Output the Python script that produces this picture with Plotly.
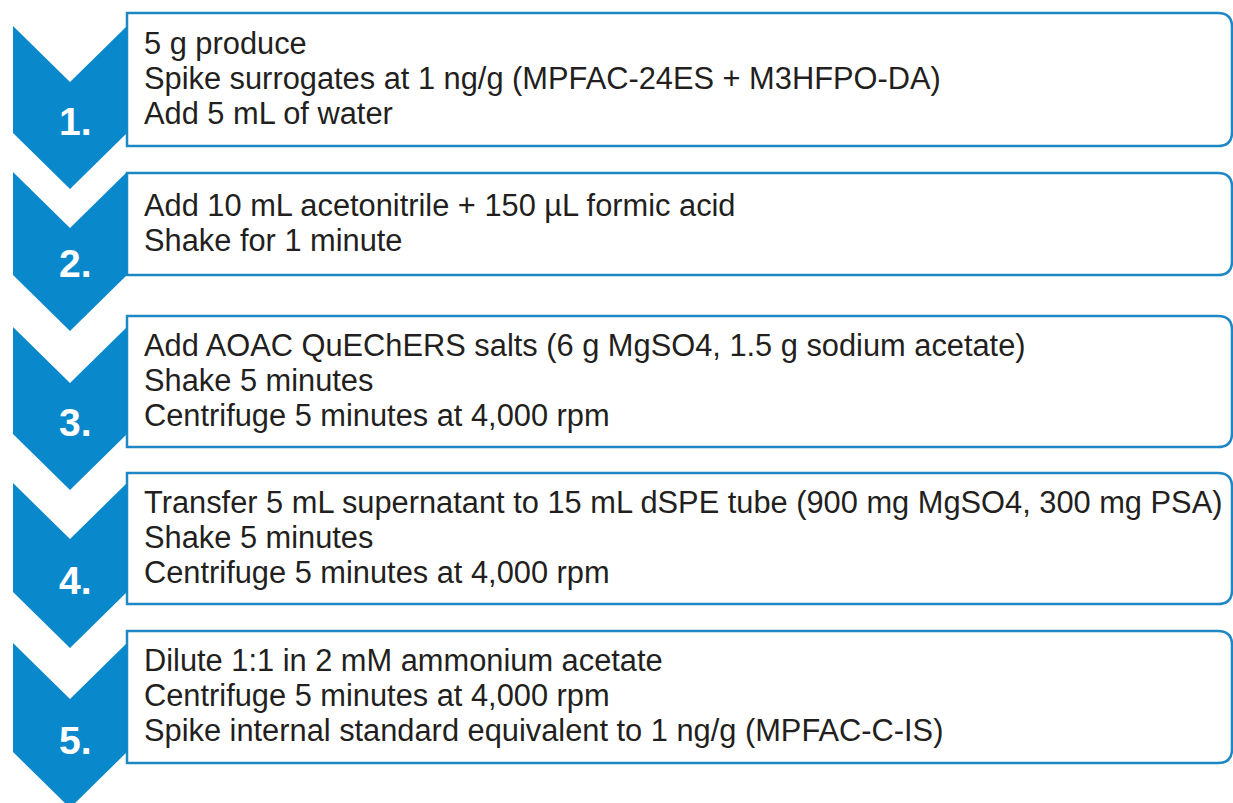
import plotly.graph_objects as go

# ---- content ----
step_labels = ["1.", "2.", "3.", "4.", "5."]
step_lines = [
    ["5 g produce",
     "Spike surrogates at 1 ng/g (MPFAC-24ES + M3HFPO-DA)",
     "Add 5 mL of water"],
    ["Add 10 mL acetonitrile + 150 µL formic acid",
     "Shake for 1 minute"],
    ["Add AOAC QuEChERS salts (6 g MgSO4, 1.5 g sodium acetate)",
     "Shake 5 minutes",
     "Centrifuge 5 minutes at 4,000 rpm"],
    ["Transfer 5 mL supernatant to 15 mL dSPE tube (900 mg MgSO4, 300 mg PSA)",
     "Shake 5 minutes",
     "Centrifuge 5 minutes at 4,000 rpm"],
    ["Dilute 1:1 in 2 mM ammonium acetate",
     "Centrifuge 5 minutes at 4,000 rpm",
     "Spike internal standard equivalent to 1 ng/g (MPFAC-C-IS)"],
]

# ---- layout geometry (pixel space) ----
W, H = 1233, 803
box_top = [13, 173, 316, 473, 631]
box_bot = [146, 275, 447, 604, 763]
chev_top = [26, 172, 327, 483, 643]
chev_bot = [133, 275, 434, 592, 752]
CX0, CX1, DEPTH = 13, 127, 56
BX0, BX1, RAD = 127, 1232, 14
LINE_GAP = 35
TEXT_X = 141.5

FILL = "#0a88cc"
BORDER = "#1f88c4"
TEXT = "#231f20"
FONT = "Liberation Sans, Arial, sans-serif"

fig = go.Figure()
shapes = []
annotations = []

for i, lines in enumerate(step_lines):
    t, b = box_top[i], box_bot[i]
    box_path = (f"M {BX0},{t} L {BX1-RAD},{t} Q {BX1},{t} {BX1},{t+RAD} "
                f"L {BX1},{b-RAD} Q {BX1},{b} {BX1-RAD},{b} L {BX0},{b} Z")
    shapes.append(dict(type="path", path=box_path, xref="x", yref="y",
                       fillcolor="white", line=dict(color=BORDER, width=2.5),
                       layer="below"))
    ct, cb = chev_top[i], chev_bot[i]
    cm = (CX0 + CX1) / 2
    chev = (f"M {CX0},{ct} L {cm},{ct+DEPTH} L {CX1},{ct} L {CX1},{cb} "
            f"L {cm},{cb+DEPTH} L {CX0},{cb} Z")
    shapes.append(dict(type="path", path=chev, xref="x", yref="y",
                       fillcolor=FILL, line=dict(width=0), layer="above"))
    n = len(lines)
    mid = (t + b) / 2 - 1.5
    for k, line in enumerate(lines):
        annotations.append(dict(x=TEXT_X, y=mid + (k - (n - 1) / 2) * LINE_GAP,
                                xref="x", yref="y",
                                xanchor="left", yanchor="middle", align="left",
                                text=line, showarrow=False,
                                font=dict(family=FONT, size=30.8, color=TEXT)))
    annotations.append(dict(x=75, y=cb - 12, xref="x", yref="y",
                            xanchor="center", yanchor="middle",
                            text=f"<b>{step_labels[i]}</b>", showarrow=False,
                            font=dict(family=FONT, size=39, color="white")))

fig.update_layout(
    width=W, height=H, margin=dict(l=0, r=0, t=0, b=0),
    paper_bgcolor="white", plot_bgcolor="white",
    xaxis=dict(range=[0, W], visible=False, fixedrange=True),
    yaxis=dict(range=[H, 0], visible=False, fixedrange=True),
    shapes=shapes, annotations=annotations, showlegend=False,
)
fig.write_html(
    "out.html",
    config={"displayModeBar": False},
    post_script="document.body.style.margin='0';document.body.style.overflow='hidden';",
)
